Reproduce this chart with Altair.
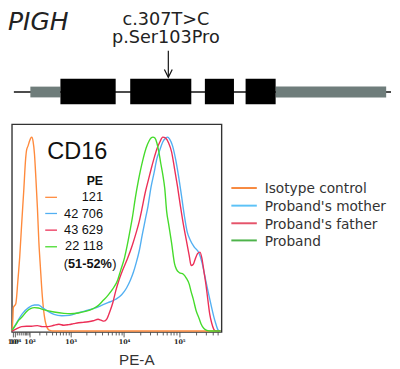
import altair as alt
import pandas as pd

# ---------------- gene model (relative gene units) ----------------
gene_span = [0, 389]
feature_kind = ["utr", "exon", "exon", "exon", "exon", "utr"]
feature_start = [17, 48, 120, 197, 239, 270]
feature_end = [48, 105, 183, 227, 270, 384]
mutation_pos = [159.3]
mutation_cdna = ["c.307T>C"]
mutation_protein = ["p.Ser103Pro"]

# ---------------- flow histogram: PE intensity vs % of max ----------------
series_names = ["Isotype control", "Proband's mother", "Proband's father", "Proband"]
mfi_labels = ["121", "42 706", "43 629", "22 118"]

iso_pe = [-3, 0, 2, 13, 23, 33, 44, 57, 70, 77, 88, 100, 110, 119, 131, 145, 160, 177, 194,
          213, 239, 268, 299, 351, 452, 553700]
iso_pct = [0, 6.6, 12.1, 14.1, 25.8, 38.4, 55.1, 72.2, 88.9, 93.4, 95.5, 98.0, 99.5, 100, 98.0,
           91.4, 78.8, 63.6, 46.0, 33.3, 18.2, 8.1, 3.0, 0.5, 0, 0]

mom_pe = [-3, 18, 50, 92, 145, 188, 239, 316, 452, 664, 958, 1365, 1927, 2708, 3632, 5066, 7050,
          9023, 11090, 13060, 14760, 16690, 18870, 21320, 24110, 27250, 30800, 34810, 39320,
          44420, 50190, 56740, 61560, 66770, 75440, 85250, 96320, 108800, 122980, 138940,
          156980, 184650, 226300, 255700, 277500, 301000, 340000, 368800, 416600, 451900,
          490200, 531600, 553700]
mom_pct = [0.3, 4.5, 9.1, 12.1, 13.4, 13.4, 12.1, 10.4, 8.6, 7.9, 8.1, 9.3, 10.4, 11.6, 12.9, 14.6,
           16.4, 18.7, 22.2, 26.3, 30.3, 35.4, 41.4, 49.5, 57.1, 64.6, 74.2, 81.3, 88.9, 93.4,
           97.5, 99.5, 100, 99.0, 95.5, 88.9, 80.3, 70.2, 59.6, 51.0, 47.0, 43.4, 40.2, 35.4,
           30.8, 25.8, 18.7, 14.1, 7.6, 4.0, 1.0, 0, 0]

dad_pe = [-3, 18, 44, 77, 117, 177, 239, 333, 452, 577, 729, 916, 1145, 1426, 1769, 2192, 2708,
          3341, 3785, 4289, 4860, 5504, 6229, 7050, 7978, 9402, 11550, 14170, 16690, 18870,
          21320, 24110, 27250, 30800, 34810, 39320, 44420, 50190, 56740, 64110, 72430, 81850,
          92480, 104460, 118000, 133400, 150700, 163500, 177400, 192300, 212900, 235700,
          255700, 277500, 301000, 326500, 354100, 384100, 416600, 451900, 553700]
dad_pct = [0, 1.3, 2.3, 2.5, 2.5, 2.8, 2.3, 2.3, 3.0, 3.5, 3.0, 3.3, 3.8, 4.3, 4.5, 4.8, 5.3,
           6.1, 5.6, 5.1, 6.3, 10.1, 14.6, 20.7, 25.8, 31.3, 37.4, 44.4, 51.0, 56.6, 63.6,
           71.2, 77.3, 83.3, 88.9, 93.9, 97.5, 100, 99.5, 97.0, 92.4, 83.8, 74.7, 64.6, 55.1,
           47.0, 38.9, 33.8, 34.3, 36.9, 39.9, 40.7, 37.4, 30.8, 24.2, 16.2, 8.6, 4.0, 1.0,
           0, 0]

pro_pe = [-3, 9, 28, 50, 77, 108, 145, 188, 268, 452, 729, 1000, 1426, 1927, 2708, 3341, 4114,
          5066, 6229, 7656, 8662, 10210, 11550, 13060, 14170, 16020, 18120, 19660, 22210,
          25110, 28380, 30800, 33420, 36250, 39320, 42660, 46270, 50190, 54480, 59100, 64110,
          72430, 81850, 88790, 100300, 118000, 133400, 150700, 163500, 177400, 200300,
          226300, 245500, 277500, 313500, 368800, 553700]
pro_pct = [0.5, 2.5, 5.6, 7.6, 10.1, 11.6, 12.1, 11.9, 10.9, 9.8, 9.1, 8.9, 9.3, 10.1, 11.6,
           13.1, 15.7, 18.4, 21.7, 26.3, 31.3, 37.9, 44.9, 53.0, 58.6, 68.7, 77.3, 82.3, 88.9,
           94.4, 98.0, 99.5, 100, 99.5, 97.0, 92.4, 86.4, 80.8, 73.7, 61.6, 55.1, 45.5, 34.8,
           31.8, 30.1, 29.3, 27.3, 24.2, 20.2, 16.7, 10.6, 6.6, 3.8, 1.3, 0.3, 0, 0]

# ---------------- styling ----------------
plot_colors = ["#FF8A3C", "#52AFF2", "#EC2F57", "#45DB2B"]
legend_colors = ["#F7893F", "#5CC2F7", "#E5536A", "#4DB34A"]
W, H = 214, 212

rows = []
for name, pes, pcts in zip(series_names, [iso_pe, mom_pe, dad_pe, pro_pe],
                           [iso_pct, mom_pct, dad_pct, pro_pct]):
    for a, b in zip(pes, pcts):
        rows.append({"series": name, "pe": a, "pct": b})
hist = pd.DataFrame(rows)

major = [1, 10, 100, 1000, 10000, 100000]
minor = ([k * 10 for k in range(2, 10)] + [k * 100 for k in range(2, 10)]
         + [k * 1000 for k in range(2, 10)] + [k * 10000 for k in range(2, 10)]
         + [k * 100000 for k in range(2, 6)])
tick_values = sorted(major + minor)
label_expr = ("datum.value == 1 ? '10⁰' : datum.value == 10 ? '10¹' : "
              "datum.value == 100 ? '10²' : datum.value == 1000 ? '10³' : "
              "datum.value == 10000 ? '10⁴' : datum.value == 100000 ? '10⁵' : ''")

xscale = alt.Scale(type="symlog", constant=100, domain=[-4, 577000], nice=False, zero=False)
xaxis = alt.Axis(
    values=tick_values, labelExpr=label_expr, title="PE-A",
    titleX=127, titleY=33, titleAlign="center", titleBaseline="alphabetic",
    titleFont="Liberation Sans", titleFontSize=15.5, titleFontWeight="normal", titleColor="#333",
    labelFont="DejaVu Serif", labelFontSize=6.5, labelFontWeight="bold", labelColor="#222",
    labelOverlap=False, labelFlush=False, labelPadding=2, domain=False, grid=False,
    tickColor="#333", tickWidth=0.8,
    tickSize={"condition": {"test": "indexof([1,10,100,1000,10000,100000], datum.value) >= 0",
                            "value": 5}, "value": 3},
)

curves = alt.Chart(hist).mark_line(strokeWidth=1.4, interpolate="monotone").encode(
    x=alt.X("pe:Q", scale=xscale, axis=xaxis),
    y=alt.Y("pct:Q", scale=alt.Scale(domain=[-0.5, 106.6], nice=False, zero=False), axis=None),
    color=alt.Color("series:N", scale=alt.Scale(domain=series_names, range=plot_colors),
                    legend=None),
)

# ---------------- gene diagram ----------------
gscale = alt.Scale(domain=gene_span, range=[2, 387], nice=False, zero=False)
feat = pd.DataFrame({"kind": feature_kind, "start": feature_start, "end": feature_end})
span = pd.DataFrame({"start": [gene_span[0]], "end": [gene_span[1]]})
mut = pd.DataFrame({"pos": mutation_pos, "cdna": mutation_cdna, "protein": mutation_protein})

gx = alt.X("start:Q", scale=gscale, axis=None)
gene_line = alt.Chart(span).mark_rule(color="#111", strokeWidth=1.5).encode(
    x=gx, x2="end:Q", y=alt.value(-33))
utr = alt.Chart(feat).transform_filter("datum.kind == 'utr'").mark_rect(color="#6F7D7B").encode(
    x=gx, x2="end:Q", y=alt.value(-38.5), y2=alt.value(-27.5))
exon = alt.Chart(feat).transform_filter("datum.kind == 'exon'").mark_rect(color="#000").encode(
    x=gx, x2="end:Q", y=alt.value(-46.5), y2=alt.value(-20.5))
mx = alt.X("pos:Q", scale=gscale, axis=None)
shaft = alt.Chart(mut).mark_rule(color="#111", strokeWidth=1.2).encode(
    x=mx, y=alt.value(-75), y2=alt.value(-48.5))
head = alt.Chart(mut).mark_point(shape="M-1,-2L0,0L1,-2", size=64, filled=False, color="#111",
                                 strokeWidth=1.2, opacity=1).encode(x=mx, y=alt.value(-48))
cdna = alt.Chart(mut).mark_text(font="DejaVu Sans", fontSize=18, color="#222", align="center",
                                baseline="alphabetic", dx=-2.5).encode(
    x=mx, y=alt.value(-101.5), text="cdna:N")
prot = alt.Chart(mut).mark_text(font="DejaVu Sans", fontSize=18, color="#222", align="center",
                                baseline="alphabetic", dx=-2.5).encode(
    x=mx, y=alt.value(-82.7), text="protein:N")
gene = alt.layer(gene_line, utr, exon, shaft, head, cdna, prot)

one = pd.DataFrame({"k": [0]})


def txt(s, x, y, **kw):
    return alt.Chart(one).mark_text(text=s, baseline="alphabetic", **kw).encode(
        x=alt.value(x), y=alt.value(y))


def seg(x1, x2, y, color, w):
    return alt.Chart(one).mark_rule(color=color, strokeWidth=w).encode(
        x=alt.value(x1), x2=alt.value(x2), y=alt.value(y))


layers = [curves, gene]
layers.append(txt("PIGH", -4, -96.5, font="DejaVu Sans", fontSize=25.5, fontStyle="italic",
                  color="#222", align="left"))
layers.append(txt("CD16", 36, 35, font="Liberation Sans", fontSize=24, color="#111",
                  align="left"))
layers.append(txt("PE", 93, 61.5, font="Liberation Sans", fontSize=12.5, fontWeight="bold",
                  color="#111", align="right"))
mini_line_y = [74.5, 91, 108, 125]
mini_text_y = [78.3, 95.3, 112, 128.7]
for i in range(4):
    layers.append(seg(34, 46, mini_line_y[i], plot_colors[i], 1.3))
    layers.append(txt(mfi_labels[i], 93, mini_text_y[i], font="Liberation Sans", fontSize=13,
                      color="#111", align="right"))
layers.append(txt("(", 53, 146.5, font="Liberation Sans", fontSize=13, color="#111",
                  align="left"))
layers.append(txt("51-52%", 57.3, 146.5, font="Liberation Sans", fontSize=13,
                  fontWeight="bold", color="#111", align="left"))
layers.append(txt(")", 102.3, 146.5, font="Liberation Sans", fontSize=13, color="#111",
                  align="left"))

leg_line_y = [65, 83, 101, 118.5]
for i in range(4):
    layers.append(seg(224, 250, leg_line_y[i], legend_colors[i], 2))
    layers.append(txt(series_names[i], 258, leg_line_y[i] + 5.5, font="DejaVu Sans",
                      fontSize=14, color="#333", align="left"))

chart = alt.layer(*layers).resolve_scale(x="independent").properties(
    width=W, height=H,
    autosize=alt.AutoSizeParams(type="none"),
    padding={"left": 4, "top": 115, "right": 174, "bottom": 34},
).configure_view(stroke="#333", strokeWidth=1.4)

chart.save("out.html", embed_options={"renderer": "svg", "actions": False})
